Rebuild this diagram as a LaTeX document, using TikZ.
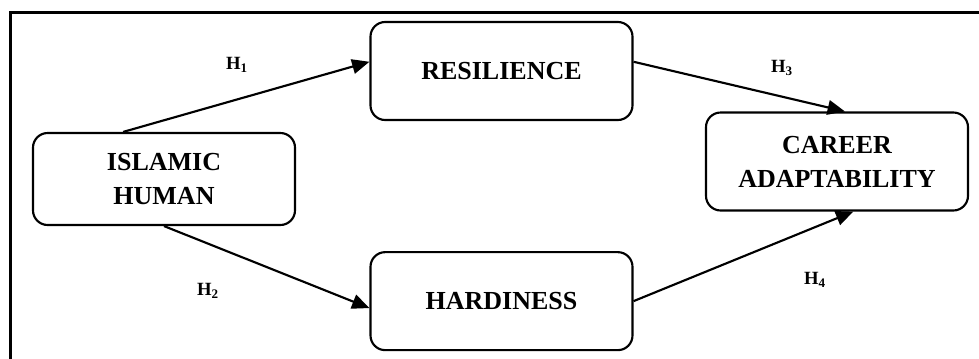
\documentclass[tikz,border=0pt]{standalone}
\usepackage{fontspec}
\setmainfont{Liberation Serif}
\usetikzlibrary{arrows.meta,positioning}
\tikzset{concept/.style={draw=black,line width=1.6pt,rounded corners=11pt,align=center,font=\bfseries\fontsize{19.5}{25.5}\selectfont,minimum width=196.5pt,minimum height=73.5pt,inner sep=2pt}, link/.style={-{Triangle[length=13pt,width=11pt]},line width=1.6pt}, hyp/.style={font=\bfseries\fontsize{14}{16}\selectfont,inner sep=1pt}}

\begin{document}
\begin{tikzpicture}[x=0.75pt,y=-0.75pt]
\clip (0,0) rectangle (979,358);
\draw[line width=2.25pt] (10.5,400) |- (1000,12);
\node[concept,minimum height=69pt] (islam) at (164,179) {ISLAMIC\\HUMAN};
\node[concept] (resil) at (501.5,71) {RESILIENCE};
\node[concept,below=97.5pt of resil] (hard) {HARDINESS};
\node[concept] (career) at (837,161.5) {CAREER\\ADAPTABILITY};
\node[hyp] (h1) at (237,65) {H\textsubscript{1}};
\node[hyp] (h2) at (208,291) {H\textsubscript{2}};
\node[hyp] (h3) at (782,68) {H\textsubscript{3}};
\node[hyp] (h4) at (815,280) {H\textsubscript{4}};
\draw[link] (islam.131)--(resil.176);\draw[link] (islam.south)--(hard.183);
\draw[link] (resil.4)--(career.81);\draw[link] (hard.east)--(career.288);
\end{tikzpicture}
\end{document}
